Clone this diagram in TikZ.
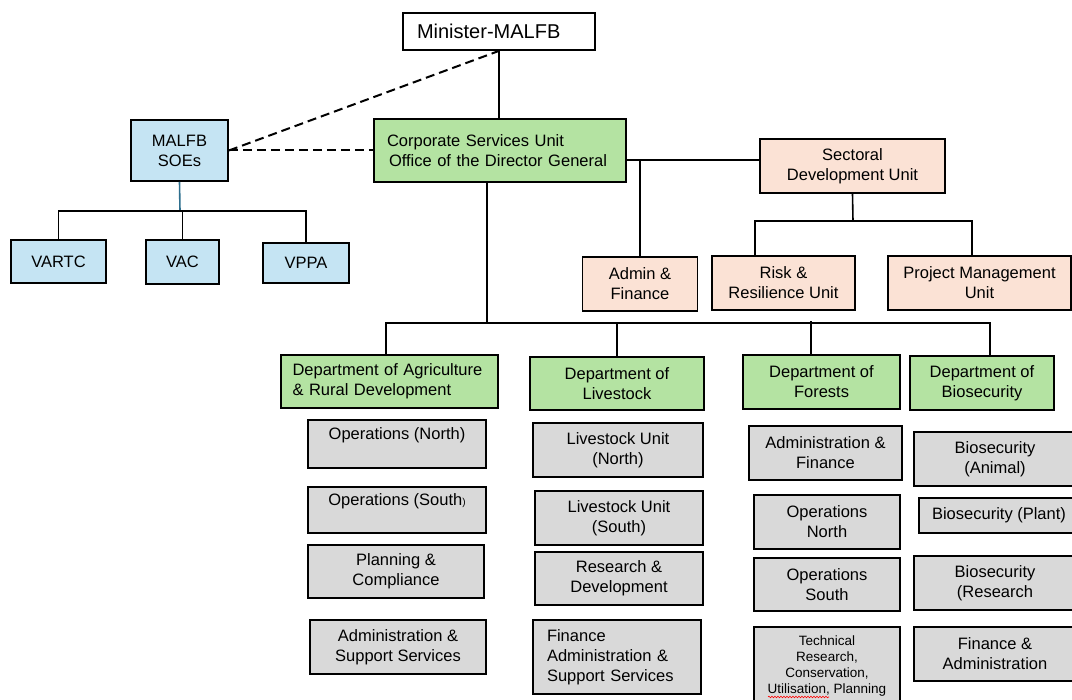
\documentclass[tikz,border=0pt]{standalone}
\usepackage{fontspec}
\setmainfont{Liberation Sans}
\usepackage{xcolor}
\usetikzlibrary{decorations.pathmorphing}

\definecolor{deptgreen}{HTML}{B4E3A2}
\definecolor{soeblue}{HTML}{C5E4F3}
\definecolor{unitpeach}{HTML}{FBE2D5}
\definecolor{secgray}{HTML}{D9D9D9}
\definecolor{soeline}{HTML}{2E6F8E}

\begin{document}
\begin{tikzpicture}[x=1pt,y=-1pt,
    orgbox/.style={draw=black,line width=1.8pt,inner sep=0pt,align=center,
      font=\fontsize{16.5}{20}\selectfont},
    deptbox/.style={orgbox,fill=deptgreen},
    soebox/.style={orgbox,fill=soeblue},
    unitbox/.style={orgbox,fill=unitpeach},
    secbox/.style={orgbox,fill=secgray},
    link/.style={line width=1.6pt},
    softlink/.style={line width=2pt,dash pattern=on 9pt off 5pt}]
    \fill[white] (0,0) rectangle (1072,700);
    \clip (0,0) rectangle (1072,700);

    % top of the chart
    \node[orgbox,minimum width=192pt,minimum height=37pt,text width=164pt,align=left,
      font=\fontsize{20}{24}\selectfont] (minister) at (499,31.5) {Minister-MALFB};
    \node[deptbox,minimum width=252pt,minimum height=63pt,text width=226pt,align=left]
      (csu) at (500,150.5) {Corporate Services Unit\\\hspace*{2pt}Office of the Director General};
    \node[soebox,minimum width=97pt,minimum height=61pt] (soe) at (179.5,150.5) {MALFB\\SOEs};

    % state owned enterprises
    \node[soebox,minimum width=95pt,minimum height=43pt] (vartc) at (58.5,261.5) {VARTC};
    \node[soebox,minimum width=73pt,minimum height=44pt] (vac) at (182.5,262) {VAC};
    \node[soebox,minimum width=86pt,minimum height=40pt] (vppa) at (306,263) {VPPA};

    % units under the DG
    \node[unitbox,minimum width=185pt,minimum height=54pt] (sdu) at (852.5,166) {Sectoral\\Development Unit};
    \node[unitbox,minimum width=115pt,minimum height=54pt] (adm) at (640,284) {Admin \&\\Finance};
    \node[unitbox,minimum width=143pt,minimum height=54pt] (risk) at (783.5,283) {Risk \&\\Resilience Unit};
    \node[unitbox,minimum width=183pt,minimum height=54pt] (pmu) at (979.5,283) {Project Management\\Unit};

    % departments
    \node[deptbox,minimum width=217pt,minimum height=53pt,text width=194pt,align=left]
      (dag) at (389.5,381.5) {Department of Agriculture\\\& Rural Development};
    \node[deptbox,minimum width=174pt,minimum height=53pt] (dlv) at (617,383.5) {Department of\\Livestock};
    \node[deptbox,minimum width=157pt,minimum height=54pt] (dfo) at (821.5,382) {Department of\\Forests};
    \node[deptbox,minimum width=144pt,minimum height=54pt] (dbs) at (982,383) {Department of\\Biosecurity};

    % sections of agriculture
    \node[secbox,minimum width=178pt,minimum height=48pt] (agn) at (397,444) {Operations (North)\\\mbox{}};
    \node[secbox,minimum width=178pt,minimum height=46pt] (ags) at (397,510)
      {Operations (South{\fontsize{10}{10}\selectfont)}\\\mbox{}};
    \node[secbox,minimum width=176pt,minimum height=53pt] (agp) at (396,571.5) {Planning \&\\Compliance};
    \node[secbox,minimum width=176pt,minimum height=54pt] (aga) at (398,647) {Administration \&\\Support Services};

    % sections of livestock
    \node[secbox,minimum width=170pt,minimum height=54pt] (lvn) at (618,450) {Livestock Unit\\(North)};
    \node[secbox,minimum width=168pt,minimum height=54pt] (lvs) at (619,518) {Livestock Unit\\(South)};
    \node[secbox,minimum width=168pt,minimum height=53pt] (lvr) at (619,578.5) {Research \&\\Development};
    \node[secbox,minimum width=168pt,minimum height=74pt,text width=140pt,align=left]
      (lvf) at (617,657) {Finance\\Administration \&\\Support Services};

    % sections of forests
    \node[secbox,minimum width=153pt,minimum height=54pt] (foa) at (825.5,453) {Administration \&\\Finance};
    \node[secbox,minimum width=146pt,minimum height=54pt] (fon) at (827,522) {Operations\\North};
    \node[secbox,minimum width=146pt,minimum height=53pt] (fos) at (827,584.5) {Operations\\South};
    \node[secbox,minimum width=146pt,minimum height=78pt,font=\fontsize{13.5}{16.3}\selectfont]
      (fot) at (827,666) {Technical\\Research,\\Conservation,\\Utilisation, Planning};
    \draw[red,line width=0.6pt,decorate,decoration={snake,amplitude=0.8pt,segment length=3pt}]
      (768,697) -- (829,697);

    % sections of biosecurity
    \node[secbox,minimum width=162pt,minimum height=54pt] (bsa) at (995,459) {Biosecurity\\(Animal)};
    \node[secbox,minimum width=160pt,minimum height=35pt] (bsp) at (999,515.5) {Biosecurity (Plant)};
    \node[secbox,minimum width=162pt,minimum height=54pt] (bsr) at (995,583) {Biosecurity\\(Research};
    \node[secbox,minimum width=162pt,minimum height=54pt] (bsf) at (995,654) {Finance \&\\Administration};

    % reporting lines
    \draw[link] (minister.south) -- (minister.south |- csu.north);
    \draw[softlink] (soe.east) -- (minister.south);
    \draw[softlink] (soe.east) -- (csu.west);

    \coordinate (soebus) at (180,211);
    \draw[link,soeline] (soe.south) -- (soebus);
    \draw[link] (vartc.north) |- (soebus) -| (vppa.north);
    \draw[link] (vac.north) -- (vac.north |- soebus);

    \coordinate (csuout) at (626,160);
    \draw[link] (csuout) -- (csuout -| sdu.west);
    \draw[link] (adm.north) -- (adm.north |- csuout);

    \coordinate (sdubus) at (853,221);
    \draw[link] (sdu.south) -- (sdubus);
    \draw[link] ([xshift=-28.5pt]risk.north) |- (sdubus) -| ([xshift=-7.5pt]pmu.north);

    \coordinate (dbus) at (500,323);
    \draw[link] ([xshift=-13pt]csu.south) -- ++(0,141);
    \draw[link] ([xshift=-3.5pt]dag.north) |- (dbus) -| ([xshift=8pt]dbs.north);
    \draw[link] (dlv.north) -- ++(0,-34);
    \draw[link] ([xshift=-10.5pt]dfo.north) -- ++(0,-33);
\end{tikzpicture}
\end{document}
